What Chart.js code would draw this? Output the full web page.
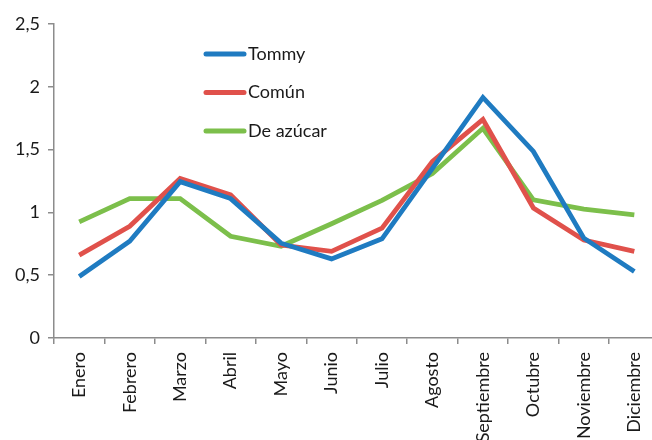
<!DOCTYPE html>
<html><head><meta charset="utf-8">
<script src="https://cdn.jsdelivr.net/npm/chart.js@4"></script>
<style>
html,body{margin:0;padding:0;background:#fff;overflow:hidden;width:652px;height:440px}
#wrap{position:absolute;left:0;top:0;width:664px;height:470px}
</style></head>
<body>
<div id="wrap"><canvas id="c" width="664" height="470"></canvas></div>
<script>
const categories = ["Enero","Febrero","Marzo","Abril","Mayo","Junio","Julio","Agosto","Septiembre","Octubre","Noviembre","Diciembre"];
const tommy    = [0.49, 0.77, 1.245, 1.11, 0.755, 0.63, 0.79, 1.35, 1.915, 1.485, 0.795, 0.53];
const comun    = [0.66, 0.89, 1.27, 1.14, 0.74, 0.69, 0.875, 1.405, 1.74, 1.035, 0.78, 0.69];
const deAzucar = [0.925, 1.11, 1.11, 0.81, 0.73, 0.91, 1.095, 1.31, 1.67, 1.10, 1.026, 0.98];
const seriesNames = ["Tommy","Común","De azúcar"];
const yTicks = [0, 0.5, 1, 1.5, 2, 2.5];
const colors = ["#1f7bc1","#e0514b","#7cbf4b"];
const FONT = "Lato, 'Open Sans', sans-serif";

const legendPlugin = {
  id: 'inLegend',
  afterDraw(chart){
    const ctx = chart.ctx;
    ctx.save();
    chart.data.datasets.forEach((ds,i)=>{
      const y = 54 + i*38.5;
      ctx.strokeStyle = ds.borderColor;
      ctx.lineWidth = 5;
      ctx.lineCap = 'round';
      ctx.beginPath(); ctx.moveTo(206,y); ctx.lineTo(244,y); ctx.stroke();
      ctx.fillStyle = '#1a1a1a';
      ctx.font = "18px " + FONT;
      ctx.textBaseline = 'middle';
      ctx.fillText(ds.label, 248, y);
    });
    ctx.restore();
  }
};

new Chart(document.getElementById('c'), {
  type: 'line',
  data: {
    labels: categories,
    datasets: [tommy, comun, deAzucar].map((d,i)=>({
      label: seriesNames[i], data: d, borderColor: colors[i], backgroundColor: colors[i],
      borderWidth: 4.8, pointRadius: 0, tension: 0, fill: false
    }))
  },
  options: {
    responsive: false, animation: false, devicePixelRatio: 1,
    layout: { padding: { top: 24, right: 2, left: 0, bottom: 0 } },
    plugins: { legend: { display: false }, tooltip: { enabled: false } },
    scales: {
      x: {
        offset: true,
        grid: { display: true, offset: true, drawOnChartArea: false, drawTicks: true, tickLength: 6, color: '#8c8c8c', lineWidth: 1.5 },
        border: { display: true, color: '#8c8c8c', width: 1.5 },
        ticks: { minRotation: 90, maxRotation: 90, autoSkip: false, color: '#1a1a1a', font: { family: FONT, size: 18 }, padding: 8 },
        afterFit(s){ s.height = 132; }
      },
      y: {
        min: 0, max: 2.5,
        afterBuildTicks(s){ s.ticks = yTicks.map(v=>({value:v})); },
        grid: { display: true, drawOnChartArea: false, drawTicks: true, tickLength: 6, color: '#8c8c8c', lineWidth: 1.5 },
        border: { display: true, color: '#8c8c8c', width: 1.5 },
        ticks: { color: '#1a1a1a', font: { family: FONT, size: 18 }, padding: 8,
          callback: v => String(v).replace('.', ',') },
        afterFit(s){ s.width = 54; }
      }
    }
  },
  plugins: [legendPlugin]
});
</script>
</body></html>
